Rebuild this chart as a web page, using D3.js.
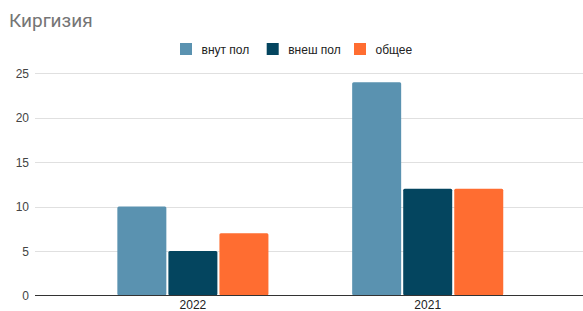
<!DOCTYPE html>
<html>
<head>
<meta charset="utf-8">
<script src="https://cdn.jsdelivr.net/npm/d3@7"></script>
<style>
  body { margin: 0; background: #fff; }
  svg { display: block; }
</style>
</head>
<body>
<svg id="chart" width="583" height="311"></svg>
<script>
// chart data
const years = ["2022", "2021"];
const seriesNames = ["внут пол", "внеш пол", "общее"];
const seriesColors = ["#5a92b0", "#04455f", "#ff6d31"];
const inner = [10, 24];
const outer = [5, 12];
const total = [7, 12];
const yTicks = [0, 5, 10, 15, 20, 25];

const values = [inner, outer, total];

const plot = { left: 35, right: 583, top: 73.3, bottom: 295.3 };

const svg = d3.select("#chart");

// Title
svg.append("text")
    .attr("x", 9)
    .attr("y", 27)
    .attr("font-family", "Roboto, Arial, sans-serif")
    .attr("font-size", 19)
    .attr("fill", "#757575")
    .text("Киргизия");

// Scales
const y = d3.scaleLinear().domain([0, 25]).range([plot.bottom, plot.top]);

const x = d3.scaleBand()
    .domain(years)
    .range([plot.left, 585.6])
    .paddingInner(0.3566)
    .paddingOuter(0.3507);

const xs = d3.scaleBand()
    .domain(seriesNames)
    .range([0, x.bandwidth()])
    .paddingInner(0.04);

// Gridlines
svg.append("g")
    .selectAll("line")
    .data(yTicks.filter(d => d !== 0))
    .enter()
    .append("line")
    .attr("x1", plot.left)
    .attr("x2", plot.right)
    .attr("y1", d => Math.round(y(d)) + 0.5)
    .attr("y2", d => Math.round(y(d)) + 0.5)
    .attr("stroke", "#e0e0e0")
    .attr("stroke-width", 1);

// Y axis labels
const yAxis = d3.axisLeft(y).tickValues(yTicks).tickSize(0).tickPadding(0);
const yG = svg.append("g")
    .attr("transform", "translate(29,0)")
    .call(yAxis);
yG.select(".domain").remove();
yG.selectAll("text")
    .attr("font-family", "Arial, 'Liberation Sans', sans-serif")
    .attr("font-size", 12)
    .attr("fill", "#444")
    .attr("dy", "0.35em");

// Bars
const groups = svg.append("g")
    .selectAll("g")
    .data(years)
    .enter()
    .append("g")
    .attr("transform", d => `translate(${x(d)},0)`);

groups.selectAll("rect")
    .data((d, i) => seriesNames.map((s, k) => ({ series: s, value: values[k][i], color: seriesColors[k] })))
    .enter()
    .append("rect")
    .attr("x", d => xs(d.series))
    .attr("width", xs.bandwidth())
    .attr("y", d => y(d.value))
    .attr("height", d => y(0) - y(d.value))
    .attr("rx", 1.5)
    .attr("fill", d => d.color);

// Baseline
svg.append("line")
    .attr("x1", plot.left)
    .attr("x2", plot.right)
    .attr("y1", Math.round(y(0)) + 0.5)
    .attr("y2", Math.round(y(0)) + 0.5)
    .attr("stroke", "#333")
    .attr("stroke-width", 1);

// X axis labels
const xAxis = d3.axisBottom(x).tickSize(0).tickPadding(0);
const xG = svg.append("g")
    .attr("transform", "translate(0,309)")
    .call(xAxis);
xG.select(".domain").remove();
xG.selectAll("text")
    .attr("font-family", "Arial, 'Liberation Sans', sans-serif")
    .attr("font-size", 12)
    .attr("fill", "#222")
    .attr("dy", 0)
    .attr("y", 0);

// Legend
const legendX = [180, 266.7, 354];
const legend = svg.append("g")
    .selectAll("g")
    .data(seriesNames)
    .enter()
    .append("g")
    .attr("transform", (d, i) => `translate(${legendX[i]},43)`);

legend.append("rect")
    .attr("width", 12)
    .attr("height", 12)
    .attr("fill", (d, i) => seriesColors[i]);

legend.append("text")
    .attr("x", 21.5)
    .attr("y", 10.5)
    .attr("font-family", "Arial, 'Liberation Sans', sans-serif")
    .attr("font-size", 12)
    .attr("fill", "#222")
    .text(d => d);
</script>
</body>
</html>
